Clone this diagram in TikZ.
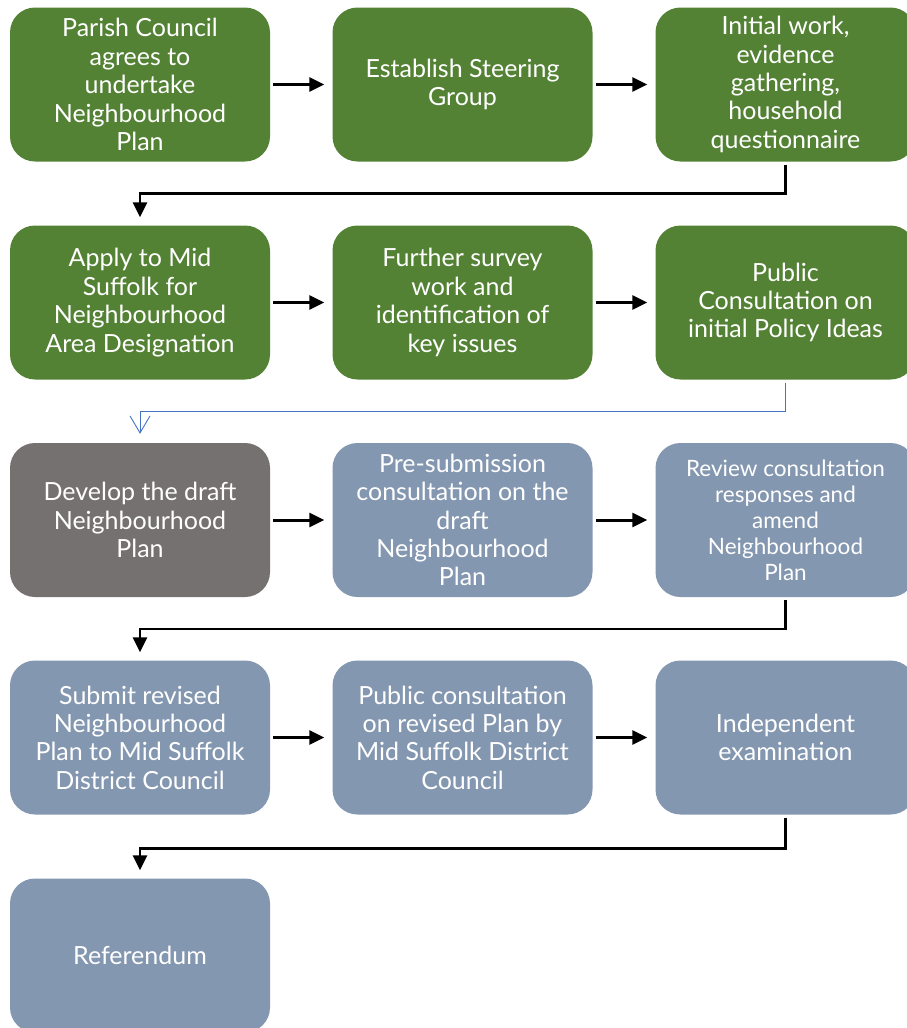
\documentclass[tikz,border=0pt]{standalone}
\usepackage{fontspec}
\setmainfont{Lato}
\usetikzlibrary{arrows.meta}
\definecolor{npgreen}{HTML}{548235}
\definecolor{npgrey}{HTML}{767171}
\definecolor{npblue}{HTML}{8497B0}
\definecolor{nplink}{HTML}{4472C4}
\begin{document}
\begin{tikzpicture}[x=1pt, y=-1pt,
      box/.style={rounded corners=25pt, minimum width=260pt, minimum height=154pt, inner sep=0pt,
        align=center, text=white, font=\fontsize{25}{28.4}\selectfont},
      G/.style={box, fill=npgreen},
      D/.style={box, fill=npgrey},
      B/.style={box, fill=npblue},
      A/.style={line width=3pt, -{Triangle[length=15pt, width=14pt]}, shorten <=3pt, shorten >=8pt},
      L/.style={draw=nplink, line width=0.9pt, -{Straight Barb[length=17pt, width=20pt]}, shorten <=3pt, shorten >=9pt}
    ]
    \useasboundingbox (0,0) rectangle (906,1028);
    % row 1
    \node [G] (parish) at (140,84.5) {Parish Council\\agrees to\\undertake\\Neighbourhood\\Plan};
    \node [G] (steer) at (462.5,84.5) {Establish Steering\\Group};
    \node [G] (init) at (785.5,84.5) {Initial work,\\evidence\\gathering,\\household\\questionnaire};
    % row 2
    \node [G] (apply) at (140,302.5) {Apply to Mid\\Suffolk for\\Neighbourhood\\Area Designation};
    \node [G] (survey) at (462.5,302.5) {Further survey\\work and\\identification of\\key issues};
    \node [G] (ideas) at (785.5,302.5) {Public\\Consultation on\\initial Policy Ideas};
    % row 3
    \node [D] (draft) at (140,520) {Develop the draft\\Neighbourhood\\Plan};
    \node [B] (presub) at (462.5,520) {Pre-submission\\consultation on the\\draft\\Neighbourhood\\Plan};
    \node [B, font=\fontsize{22.5}{26}\selectfont] (review) at (785.5,520) {Review consultation\\responses and\\amend\\Neighbourhood\\Plan};
    % row 4
    \node [B] (submit) at (140,737.5) {Submit revised\\Neighbourhood\\Plan to Mid Suffolk\\District Council};
    \node [B] (revised) at (462.5,737.5) {Public consultation\\on revised Plan by\\Mid Suffolk District\\Council};
    \node [B] (exam) at (785.5,737.5) {Independent\\examination};
    % row 5
    \node [B] (ref) at (140,955.5) {Referendum};

    \draw [A] (parish) -- (steer);
    \draw [A] (steer) -- (init);
    \draw [A] (apply) -- (survey);
    \draw [A] (survey) -- (ideas);
    \draw [A] (draft) -- (presub);
    \draw [A] (presub) -- (review);
    \draw [A] (submit) -- (revised);
    \draw [A] (revised) -- (exam);

    \draw [A, line width=2.5pt] (init.south) -- ++(0,32) -| (apply.north);
    \draw [L] (ideas.south) -- ++(0,32) -| (draft.north);
    \draw [A, line width=2.5pt] (review.south) -- ++(0,32) -| (submit.north);
    \draw [A, line width=2.5pt] (exam.south) -- ++(0,34) -| (ref.north);
  \end{tikzpicture}
\end{document}
